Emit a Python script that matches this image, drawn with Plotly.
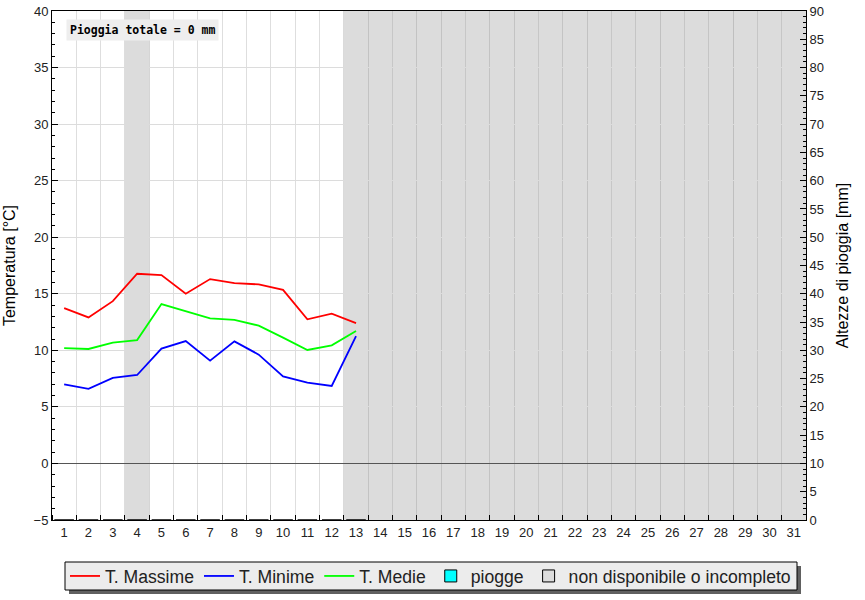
import plotly.graph_objects as go

days = list(range(1, 32))
obs_days = list(range(1, 14))
t_max = [13.73, 12.91, 14.35, 16.77, 16.65, 15.0, 16.3, 15.95, 15.83, 15.35, 12.74, 13.24, 12.41]
t_min = [7.0, 6.59, 7.56, 7.82, 10.15, 10.82, 9.09, 10.79, 9.62, 7.7, 7.15, 6.85, 11.26]
t_med = [10.2, 10.12, 10.68, 10.91, 14.09, 13.47, 12.82, 12.7, 12.18, 11.12, 10.03, 10.44, 11.71]
rain = [0] * 13
missing_days = [4] + list(range(13, 32))
total_rain = 0

FONT = "Liberation Sans"
vgrid_rgba = "rgba(0,0,0,0.13)"
hgrid = "#dcdcdc"
band = "#dcdcdc"

fig = go.Figure()

# gray bands for missing days
for d in missing_days:
    fig.add_shape(type="rect", xref="x", yref="paper", x0=d - 0.5, x1=d + 0.5, y0=0, y1=1,
                  fillcolor=band, line=dict(width=0), layer="below")

# paper-coordinate helpers (plot area 52..806 x, 11..520 y)
def px_x(p):
    return (p - 52) / 754.0

def px_y(p):
    return (520 - p) / 509.0

# legend shadow and box
fig.add_shape(type="rect", xref="paper", yref="paper", x0=px_x(69), x1=px_x(801),
              y0=px_y(594), y1=px_y(566), fillcolor="#606060", line=dict(width=0), layer="below")
fig.add_shape(type="rect", xref="paper", yref="paper", x0=px_x(65), x1=px_x(797),
              y0=px_y(590), y1=px_y(562), fillcolor="#ececec", line=dict(color="black", width=1),
              layer="below")

fig.add_trace(go.Scatter(x=obs_days, y=t_max, mode="lines", name="T. Massime",
                         line=dict(color="#ff0000", width=1.8)))
fig.add_trace(go.Scatter(x=obs_days, y=t_min, mode="lines", name="T. Minime",
                         line=dict(color="#0000ff", width=1.8)))
fig.add_trace(go.Scatter(x=obs_days, y=t_med, mode="lines", name="T. Medie",
                         line=dict(color="#00ff00", width=1.8)))
fig.add_trace(go.Bar(x=obs_days, y=rain, name="piogge", yaxis="y2",
                     marker=dict(color="#00ffff", line=dict(color="black", width=1))))
fig.add_trace(go.Bar(x=[None], y=[None], name="non disponibile o incompleto", yaxis="y2",
                     marker=dict(color=band, line=dict(color="black", width=1))))

fig.update_layout(
    width=865, height=600,
    margin=dict(l=52, r=59, t=11, b=80, autoexpand=False),
    paper_bgcolor="white", plot_bgcolor="white",
    font=dict(family=FONT, size=13, color="#222"),
    showlegend=True,
    legend=dict(orientation="h", x=px_x(65), xanchor="left", y=px_y(576), yanchor="middle",
                bgcolor="rgba(0,0,0,0)", borderwidth=0,
                font=dict(family=FONT, size=17.6, color="#222"), itemclick=False),
    xaxis=dict(range=[0.5, 31.5], tickmode="array", tickvals=days, ticktext=[str(d) for d in days],
               ticks="", showgrid=False, zeroline=False, automargin=False,
               showline=True, linecolor="black", linewidth=1, mirror=True,
               tickfont=dict(size=13),
               minor=dict(tick0=0.5, dtick=1, ticks="inside", ticklen=5, tickcolor="black",
                          showgrid=True, gridcolor=vgrid_rgba, gridwidth=1)),
    yaxis=dict(range=[-5, 40], dtick=5, ticks="inside", ticklen=6, tickcolor="black",
               showgrid=True, gridcolor=hgrid, gridwidth=1, automargin=False,
               zeroline=True, zerolinecolor="#555", zerolinewidth=1,
               showline=True, linecolor="black", linewidth=1,
               minor=dict(dtick=1, ticks="inside", ticklen=3, tickcolor="black", showgrid=False),
               title=dict(text="Temperatura [°C]", font=dict(size=16, color="black"), standoff=13)),
    yaxis2=dict(range=[0, 90], dtick=5, overlaying="y", side="right", anchor="x",
                ticks="inside", ticklen=6, tickcolor="black", showgrid=False, zeroline=False,
                showline=True, linecolor="black", linewidth=1, automargin=False,
                minor=dict(dtick=1, ticks="inside", ticklen=3, tickcolor="black", showgrid=False),
                title=dict(text="Altezze di pioggia [mm]", font=dict(size=16, color="black"), standoff=13)),
    annotations=[dict(text=f"<b>Pioggia totale = {total_rain} mm</b>", xref="paper", yref="paper",
                      x=px_x(66), y=px_y(19), xanchor="left", yanchor="top", showarrow=False,
                      font=dict(family="DejaVu Sans Mono", size=11.5, color="black"),
                      bgcolor="#eeeeee", borderpad=3)],
)

fig.write_html("out.html", config={"displayModeBar": False},
               post_script="document.body.style.margin='0';")
